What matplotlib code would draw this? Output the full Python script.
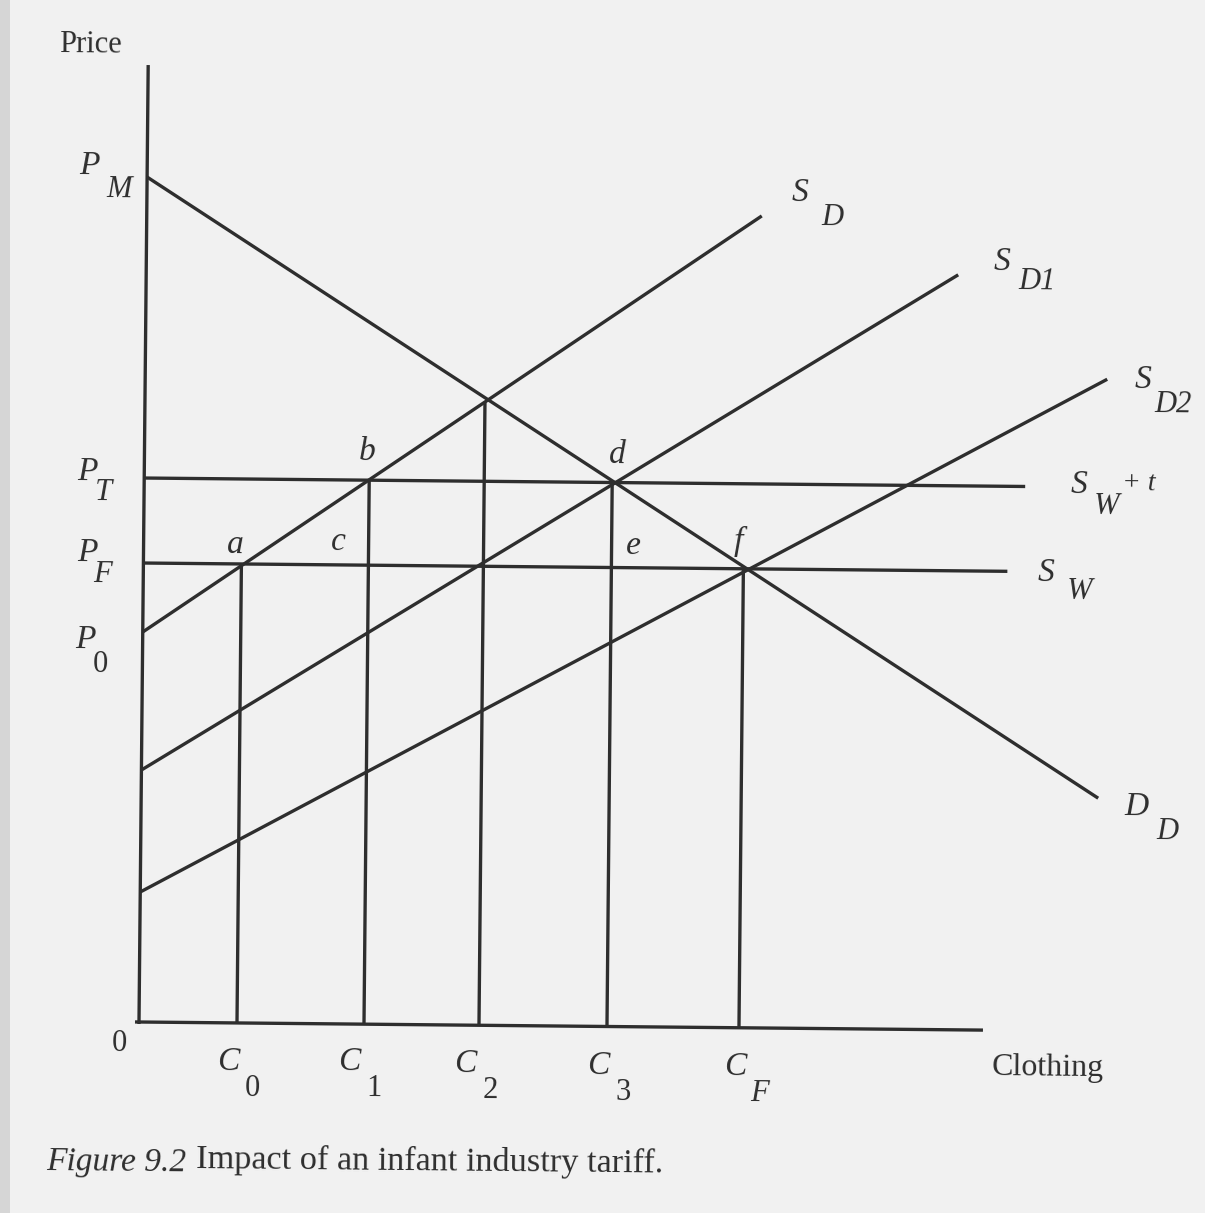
import matplotlib
matplotlib.use("Agg")
import matplotlib.pyplot as plt
from matplotlib.transforms import Affine2D

# prices on the vertical axis
p_m = 8.45   # demand intercept
p_t = 5.44   # world price + tariff
p_f = 4.59   # world price (free trade)
p_0 = 3.90   # S_D intercept
p_2 = 6.23   # where S_D meets D

# quantities on the horizontal axis
c_names = ["0", "1", "2", "3", "F"]
c_vals = [0.98, 2.25, 3.40, 4.68, 6.00]
c_tops = [p_f, p_t, p_2, p_t, p_f]

# curves: (x0, y0) -> (x1, y1)
demand_x = [0, 9.57]
demand_y = [p_m, 2.33]
sd_x = [0, 6.15]
sd_y = [p_0, 8.12]
sd1_x = [0, 8.12]
sd1_y = [2.52, 7.55]
sd2_x = [0, 9.62]
sd2_y = [1.30, 6.52]
swt_x = [0, 8.81]
sw_x = [0, 8.64]

ink = "#2e2e2e"
serif = "Liberation Serif"
bg = "#f1f1f1"

fig = plt.figure(figsize=(12.05, 12.13), dpi=100, facecolor=bg)
ax = fig.add_axes([0, 0, 1, 1])
ax.set_xlim(-1.39, 10.66)
ax.set_ylim(-1.91, 10.22)
ax.axis("off")
ax.set_facecolor(bg)

# the scan is turned a little clockwise
rot = Affine2D().rotate_deg(-0.55) + ax.transData
lw = 2.4

def seg(x, y):
    ax.plot(x, y, color=ink, lw=lw, solid_capstyle="butt", transform=rot)

# axes
seg([0, 0], [-0.02, 9.57])
seg([-0.04, 8.44], [0, 0])

seg(demand_x, demand_y)
seg(sd_x, sd_y)
seg(sd1_x, sd1_y)
seg(sd2_x, sd2_y)
seg(swt_x, [p_t, p_t])
seg(sw_x, [p_f, p_f])
for c, top in zip(c_vals, c_tops):
    seg([c, c], [0, top])

# left page edge
ax.axvspan(-1.39, -1.29, color="#d6d6d6", lw=0)

def lbl(s, x, y, size=24, style="italic", ha="center"):
    ax.text(x, y, s, fontsize=size, family=serif, style=style, color=ink,
            ha=ha, va="center", rotation=-0.55)

lbl("Price", -0.49, 9.77, 22, "normal")

# price labels
lbl("P", -0.50, 8.56); lbl("M", -0.20, 8.32, 22)
lbl("P", -0.52, 5.50); lbl("T", -0.35, 5.29, 22)
lbl("P", -0.52, 4.69); lbl("F", -0.36, 4.47, 22)
lbl("P", -0.54, 3.82); lbl("0", -0.38, 3.57, 22, "normal")

# quantity labels
lbl("0", -0.19, -0.22, 22, "normal")
ctext_x = [0.89, 2.10, 3.26, 4.59, 5.96]
ctext_y = [-0.40, -0.40, -0.42, -0.44, -0.45]
for name, cx, cy in zip(c_names, ctext_x, ctext_y):
    lbl("C", cx, cy)
    lbl(name, cx + 0.25, cy - 0.27, 22, "normal" if name != "F" else "italic")
lbl("Clothing", 9.09, -0.46, 23, "normal")

# points
for s, x, y in [("a", 0.96, 4.77), ("b", 2.28, 5.70), ("c", 1.99, 4.80),
                ("d", 4.78, 5.67), ("e", 4.94, 4.76), ("f", 5.99, 4.80)]:
    lbl(s, x, y)

# curve labels
lbl("S", 6.61, 8.29); lbl("D", 6.93, 8.04, 22)
lbl("S", 8.63, 7.60); lbl("D1", 8.98, 7.40, 22)
lbl("S", 10.04, 6.42); lbl("D2", 10.34, 6.17, 22)
lbl("S", 9.40, 5.37); lbl("W", 9.68, 5.15, 22); lbl("+ t", 10.00, 5.38, 20)
lbl("S", 9.07, 4.49); lbl("W", 9.41, 4.30, 22)
lbl("D", 9.98, 2.15); lbl("D", 10.28, 1.90, 22)

# caption
lbl("Figure 9.2", -0.93, -1.40, 24, "italic", "left")
lbl("Impact of an infant industry tariff.", 0.57, -1.40, 24.7, "normal", "left")

fig.savefig("out.png", dpi=100, facecolor=fig.get_facecolor())
